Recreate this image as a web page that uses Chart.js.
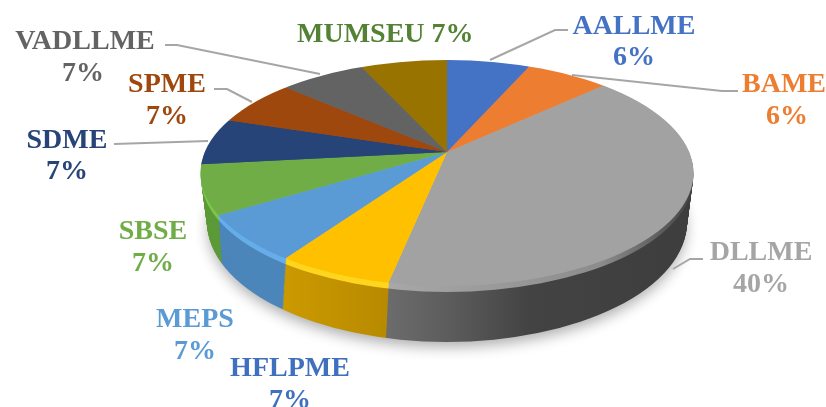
<!DOCTYPE html>
<html>
<head>
<meta charset="utf-8">
<style>html,body{margin:0;padding:0;background:#fff}canvas{display:block}</style>
<script src="https://cdn.jsdelivr.net/npm/chart.js@4"></script>
</head>
<body>
<canvas id="c" width="826" height="407"></canvas>
<script>
const categories = ["AALLME","BAME","DLLME","HFLPME","MEPS","SBSE","SDME","SPME","VADLLME","MUMSEU"];
const shares = [6.4,6.4,40.4,6.64,6.64,6.64,6.64,6.64,6.64,6.64];
const shownPercent = ["6%","6%","40%","7%","7%","7%","7%","7%","7%","7%"];
const faceColors = ["#4472c4","#ed7d31","#a2a2a2","#ffc000","#5b9bd5","#70ad47","#264478","#9e480e","#636363","#997300"];
const labelColors = ["#4472c4","#ed7d31","#a5a5a5","#3f6fbf","#5b9bd5","#70ad47","#264478","#9e480e","#636363","#548235"];

// Projection of the pie disc
const apex = {x:447, y:152}, face = {cx:447, cy:173, rx:246.5, ry:113}, base = {cy:222, rx:240, ry:120};
const reach = 340, upperSquash = 0.444, lowerSquash = 0.48, bevelDepth = 6, rimDepth = 56;

// Label anchors [name x, name y, percent x, percent y]
const labelPos = [[634,27,634,58],[784,85,787,117],[761,253,761,285],[290,369,290,401],[195,320,195,352],
                  [153,232,153,264],[67,141,67,172],[167,85,167,117],[85,42,83,74],[346,35,null,null]];
const leaders = [[[568,30],[555,30],[490,60]],[[738,91],[722,91],[572,75]],[[703,259],[690,259],[673,269]],
                 [[114,144],[208,141]],[[214,89],[227,89],[252,102]],[[165,45],[177,45],[320,74]]];

function stops(ctx, arc, k, list){
  const toArc = x => arc.x + (x - apex.x) / k;
  const g = ctx.createLinearGradient(toArc(list[0][0]), 0, toArc(list[list.length-1][0]), 0);
  const span = list[list.length-1][0] - list[0][0];
  list.forEach(s => g.addColorStop((s[0]-list[0][0])/span, s[1]));
  return g;
}
const rimColors = ["#375da0","#bd6427",null,null,"#4c86ba","#5d9a39","#1e3660","#7e390b","#4f4f4f","#7a5c00"];
const bevelColors = ["#4f80d6","#f78a3e",null,"#ffd51f","#66aeea","#7cc54f","#2c4f8a","#ad5010","#707070","#a98000"];

function drawDisc(ctx, chart, d, colorFor){
  const arcs = chart.getDatasetMeta(0).data;
  const R = arcs[0].outerRadius, k = reach / R;
  const t = d / rimDepth;
  const cy = face.cy + (base.cy - face.cy) * t;
  const rx = face.rx + (base.rx - face.rx) * t;
  const ry = face.ry + (base.ry - face.ry) * t;
  const ay = apex.y + (cy - face.cy);
  ctx.save();
  ctx.beginPath();
  ctx.ellipse(face.cx, cy, rx, ry, 0, 0, Math.PI*2);
  ctx.clip();
  [[upperSquash, -400, 400.6],[lowerSquash, 0, 500]].forEach(h => {
    ctx.save();
    ctx.beginPath();
    ctx.rect(0, ay + h[1], 826, h[2]);
    ctx.clip();
    ctx.translate(apex.x, ay);
    ctx.scale(k, h[0]*k);
    ctx.translate(-arcs[0].x, -arcs[0].y);
    arcs.forEach((arc, i) => {
      const orig = arc.options;
      const o = Object.create(orig);
      o.backgroundColor = colorFor(i, arc, k);
      o.borderWidth = 0;
      arc.options = o;
      arc.draw(ctx);
      arc.options = orig;
    });
    ctx.restore();
  });
  ctx.restore();
}

const pie3d = {
  id:'pie3d',
  beforeDatasetsDraw(chart){
    const ctx = chart.ctx;
    // soft drop shadow under the disc
    ctx.save();
    ctx.shadowColor = 'rgba(0,0,0,0.32)';
    ctx.shadowBlur = 14;
    ctx.shadowOffsetY = 6;
    ctx.fillStyle = '#555';
    ctx.beginPath();
    ctx.ellipse(face.cx, base.cy, base.rx - 1, base.ry - 1, 0, 0, Math.PI*2);
    ctx.fill();
    ctx.restore();
    const rim = (i, arc, k) => {
      if (i === 2) return stops(ctx, arc, k, [[387,'#6c6c6c'],[450,'#5c5c5c'],[530,'#434343'],[700,'#3d3d3d']]);
      if (i === 3) return stops(ctx, arc, k, [[280,'#cc9a00'],[387,'#b88a00']]);
      return rimColors[i];
    };
    const bevel = (i, arc, k) => {
      if (i === 2) return stops(ctx, arc, k, [[387,'#a8a8a8'],[600,'#8c8c8c'],[665,'#5a5a5a'],[700,'#3d3d3d']]);
      return bevelColors[i];
    };
    for (let d = rimDepth; d > bevelDepth; d--) drawDisc(ctx, chart, d, rim);
    for (let d = bevelDepth; d > 0; d--) drawDisc(ctx, chart, d, bevel);
    drawDisc(ctx, chart, 0, i => faceColors[i]);
    return false;
  },
  afterDraw(chart){
    const ctx = chart.ctx;
    ctx.save();
    ctx.strokeStyle = '#a6a6a6';
    ctx.lineWidth = 2;
    leaders.forEach(l => {
      ctx.beginPath();
      l.forEach((p, i) => i ? ctx.lineTo(p[0],p[1]) : ctx.moveTo(p[0],p[1]));
      ctx.stroke();
    });
    ctx.font = 'bold 28px "Liberation Serif"';
    ctx.textBaseline = 'middle';
    categories.forEach((name, i) => {
      const p = labelPos[i];
      ctx.fillStyle = labelColors[i];
      if (p[2] === null) {
        ctx.textAlign = 'left';
        ctx.fillText(name + ' ' + shownPercent[i], 297, p[1]);
      } else {
        ctx.textAlign = 'center';
        ctx.fillText(name, p[0], p[1]);
        ctx.fillText(shownPercent[i], p[2], p[3]);
      }
    });
    ctx.restore();
  }
};

new Chart(document.getElementById('c'), {
  type:'pie',
  data:{labels:categories, datasets:[{data:shares, backgroundColor:faceColors, borderWidth:0}]},
  options:{
    responsive:false, animation:false,
    layout:{padding:0},
    events:[],
    plugins:{legend:{display:false}, tooltip:{enabled:false}}
  },
  plugins:[pie3d]
});
</script>
</body>
</html>
